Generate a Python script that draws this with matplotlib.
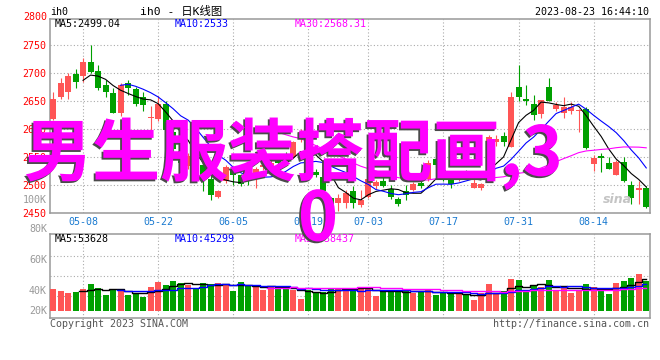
import numpy as np
import pandas as pd
import matplotlib
matplotlib.use("Agg")
import matplotlib.pyplot as plt
import matplotlib.patheffects as pe
from matplotlib.transforms import blended_transform_factory

# ih0 daily K data, 80 trading days (04-27 .. 08-23)
opens = [2618, 2658, 2667, 2698, 2696, 2720, 2704, 2680, 2664, 2629,
         2682, 2672, 2657, 2620, 2618, 2645, 2596, 2562, 2535, 2550,
         2536, 2512, 2480, 2507, 2527, 2518, 2520, 2515, 2533, 2527,
         2548, 2556, 2550, 2583, 2541, 2524, 2514, 2477, 2469, 2468,
         2489, 2465, 2480, 2498, 2507, 2493, 2475, 2490, 2492, 2504,
         2512, 2547, 2527, 2510, 2512, 2526, 2496, 2496, 2548, 2578,
         2588, 2569, 2676, 2655, 2645, 2627, 2676, 2637, 2630, 2633,
         2632, 2637, 2538, 2552, 2539, 2518, 2542, 2500, 2491, 2496]
closes = [2655, 2682, 2695, 2684, 2721, 2702, 2673, 2666, 2629, 2679,
          2673, 2646, 2643, 2622, 2645, 2599, 2565, 2540, 2552, 2534,
          2510, 2482, 2489, 2532, 2518, 2503, 2510, 2530, 2537, 2539,
          2540, 2550, 2577, 2596, 2529, 2519, 2489, 2465, 2477, 2486,
          2468, 2474, 2511, 2506, 2498, 2480, 2467, 2482, 2502, 2498,
          2539, 2537, 2512, 2503, 2521, 2517, 2504, 2503, 2586, 2582,
          2578, 2657, 2657, 2651, 2626, 2652, 2650, 2643, 2640, 2640,
          2633, 2566, 2548, 2549, 2529, 2542, 2508, 2477, 2496, 2462]
highs = [2666, 2691, 2700, 2708, 2728, 2750, 2715, 2688, 2673, 2682,
         2688, 2676, 2667, 2642, 2660, 2650, 2602, 2566, 2558, 2556,
         2540, 2518, 2492, 2536, 2532, 2520, 2524, 2533, 2540, 2545,
         2552, 2560, 2580, 2600, 2545, 2530, 2521, 2480, 2485, 2491,
         2498, 2492, 2515, 2510, 2524, 2500, 2480, 2500, 2506, 2507,
         2545, 2550, 2530, 2512, 2525, 2528, 2524, 2505, 2590, 2590,
         2596, 2666, 2715, 2679, 2661, 2652, 2691, 2648, 2657, 2648,
         2637, 2640, 2554, 2557, 2551, 2546, 2551, 2508, 2508, 2498]
lows = [2616, 2655, 2655, 2674, 2685, 2700, 2670, 2658, 2629, 2623,
        2661, 2642, 2632, 2599, 2614, 2599, 2560, 2530, 2530, 2530,
        2489, 2474, 2478, 2504, 2500, 2498, 2500, 2495, 2528, 2520,
        2535, 2546, 2548, 2578, 2525, 2515, 2486, 2455, 2455, 2459,
        2459, 2462, 2478, 2494, 2497, 2476, 2463, 2474, 2490, 2495,
        2508, 2533, 2508, 2496, 2508, 2512, 2496, 2492, 2546, 2570,
        2570, 2569, 2650, 2643, 2617, 2620, 2650, 2632, 2620, 2628,
        2596, 2565, 2526, 2523, 2529, 2518, 2506, 2466, 2466, 2459]
# volume, thousands of lots
volumes = [38.5, 35, 31.5, 33.25, 38.5, 47.25, 40.25, 28, 36.2, 38.5,
           28, 29.2, 24.5, 42, 50.75, 45.5, 52.5, 49.6, 45.5, 39.7,
           49, 47.25, 49, 47.25, 35, 50.75, 43.75, 42, 36.75, 43.75,
           42, 42, 36.75, 21, 36.75, 33.25, 33.25, 40.25, 40.8, 40.8,
           35, 40.8, 39.7, 26.8, 33.8, 33.8, 36.75, 36.75, 30.9, 33.8,
           38.5, 28, 30.9, 29.75, 29.75, 29.75, 19.25, 32.1, 47.25, 29.75,
           35, 56, 54.25, 36.75, 43.75, 42, 54.25, 36.75, 39.7, 31.5,
           36.75, 47.25, 42, 35, 29.75, 49, 52.5, 57.75, 64.75, 52.5]

date_idx = [4, 14, 24, 34, 42, 52, 62, 72]
date_labels = ["05-08", "05-22", "06-05", "06-19", "07-03", "07-17", "07-31", "08-14"]
price_ticks = [2450, 2500, 2550, 2600, 2650, 2700, 2750]
vol_labels = ["100K", "80K", "60K", "40K", "20K"]

RED = "#ff5555"
GREEN = "#00a000"
MONO = "DejaVu Sans Mono"
FS = 7.2

W, H = 660, 360
def fx(p):
    return p / W
def fy(p):
    return 1 - p / H

fig = plt.figure(figsize=(6.6, 3.6), dpi=100)
fig.patch.set_facecolor("white")

x = np.arange(len(closes))
o = np.array(opens, float)
c = np.array(closes, float)
up = c >= o
colors = np.where(up, RED, GREEN)

# ---- price panel
ax = fig.add_axes([fx(50), fy(213.3), 600 / W, 194.6 / H])
ax.set_xlim(-0.4, 79.5)
ax.set_ylim(2450, 2797.5)
ax.vlines(x, lows, highs, colors=colors, lw=0.8, zorder=2)
body = np.maximum(np.abs(c - o), 1.6)
ax.bar(x, body, bottom=np.minimum(o, c), width=0.8, color=colors, lw=0, zorder=3)

cs = pd.Series(closes)
ax.plot(x, cs.rolling(5).mean(), color="black", lw=0.8, zorder=4)
ax.plot(x, cs.rolling(10).mean(), color="#0000ff", lw=0.8, zorder=4)
ax.plot(x, cs.rolling(30).mean(), color="#ff00ff", lw=0.8, zorder=4)

ax.set_yticks(price_ticks)
ax.set_yticklabels([str(t) for t in price_ticks], color="#ff0000", fontsize=FS, family=MONO)
ax.set_xticks(date_idx)
ax.set_xticklabels(date_labels, color="#1a7ad0", fontsize=FS, family=MONO)
ax.tick_params(length=0, pad=2.4)
ax.grid(True, color="#aaaaaa", linestyle=(0, (1, 2)), lw=0.8)
ax.set_axisbelow(True)
for s in ax.spines.values():
    s.set_color("#999999")
    s.set_linewidth(1.1)
tr = blended_transform_factory(ax.transAxes, ax.transData)
ax.text(-0.005, 2800, "2800", transform=tr, ha="right", va="center",
        color="#ff0000", fontsize=FS, family=MONO, clip_on=False)

ax.text(0.007, 0.999, "MA5:2499.04", transform=ax.transAxes, ha="left", va="top",
        color="black", fontsize=FS, family=MONO)
ax.text(0.208, 0.999, "MA10:2533", transform=ax.transAxes, ha="left", va="top",
        color="#0000ff", fontsize=FS, family=MONO)
ax.text(0.408, 0.999, "MA30:2568.31", transform=ax.transAxes, ha="left", va="top",
        color="#ff00ff", fontsize=FS, family=MONO)
ax.text(0.945, 0.07, "sina", transform=ax.transAxes, ha="center", va="center",
        color="#c4c4c4", fontsize=9, fontweight="bold", style="italic")

# ---- volume panel
vax = fig.add_axes([fx(50), fy(317.7), 600 / W, 83.7 / H])
kpp = 1.75  # K per pixel
vax.set_xlim(-0.4, 79.5)
vax.set_ylim(-(317.7 - 311) * kpp, (311 - 234) * kpp)
vax.bar(x, volumes, width=0.8, color=colors, lw=0, zorder=3)
vs = pd.Series(volumes)
vax.plot(x, vs.rolling(5).mean(), color="black", lw=1.0, drawstyle="steps-mid", zorder=4)
vax.plot(x, vs.rolling(10).mean(), color="#0000ff", lw=1.0, drawstyle="steps-mid", zorder=4)
vax.plot(x, vs.rolling(30).mean(), color="#ff00ff", lw=1.0, drawstyle="steps-mid", zorder=4)
vax.set_yticks([(311 - r) * kpp for r in (256, 276, 296)])
vax.set_xticks(date_idx)
vax.tick_params(length=0, labelleft=False, labelbottom=False)
vax.grid(True, color="#aaaaaa", linestyle=(0, (1, 2)), lw=0.8)
vax.set_axisbelow(True)
for s in vax.spines.values():
    s.set_color("#999999")
    s.set_linewidth(1.1)
vax.text(0.008, 1.0, "MA5:53628", transform=vax.transAxes, ha="left", va="top",
         color="black", fontsize=FS, family=MONO)
vax.text(0.208, 1.0, "MA10:45299", transform=vax.transAxes, ha="left", va="top",
         color="#0000ff", fontsize=FS, family=MONO)
vax.text(0.408, 1.0, "MA30:38437", transform=vax.transAxes, ha="left", va="top",
         color="#ff00ff", fontsize=FS, family=MONO)

for lab, ypix in zip(vol_labels, [200, 229, 260, 291, 311]):
    fig.text(fx(47), fy(ypix), lab, ha="right", va="center", color="#999999",
             fontsize=FS, family=MONO)

# ---- header / footer
fig.text(fx(50), fy(12), "ih0", ha="left", va="center", fontsize=FS, family=MONO)
fig.text(fx(140), fy(11), "ih0 - 日K线图", ha="left", va="center", fontsize=8.2,
         family=[MONO, "Noto Sans CJK SC"])
fig.text(fx(649), fy(12), "2023-08-23 16:44:10", ha="right", va="center",
         fontsize=FS, family=MONO)
fig.text(fx(50), fy(324), "Copyright 2023 SINA.COM", ha="left", va="center",
         color="#555555", fontsize=FS, family=MONO)
fig.text(fx(649), fy(324), "http://finance.sina.com.cn", ha="right", va="center",
         color="#555555", fontsize=FS, family=MONO)

# ---- overlay caption
shadow = [pe.withSimplePatchShadow(offset=(-1.3, -1.3), shadow_rgbFace="#4a4a4a", alpha=1.0)]
cjk = ["Noto Sans CJK SC", "DejaVu Sans"]
fig.text(fx(24), fy(154), "男生服装搭配画,3", ha="left", va="center", fontsize=49,
         fontweight="bold", color="#ff00ff", family=cjk, path_effects=shadow, zorder=10)
fig.text(fx(318), fy(221), "0", ha="center", va="center", fontsize=49,
         fontweight="bold", color="#ff00ff", family=cjk, path_effects=shadow, zorder=10)

fig.savefig("out.png", dpi=100)
